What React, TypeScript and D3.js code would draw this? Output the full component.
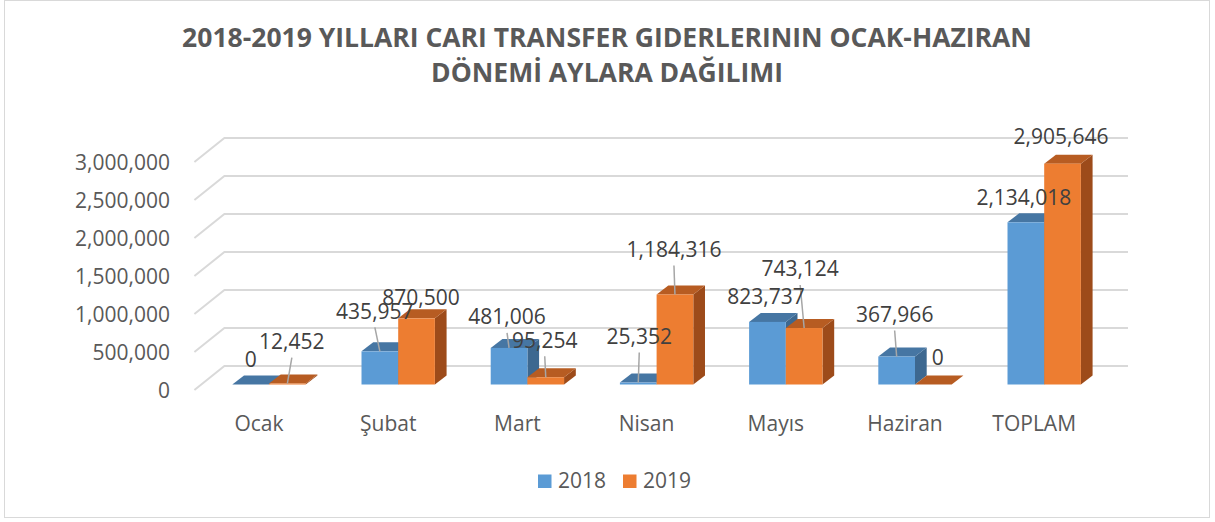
import React from 'react';
import * as d3 from 'd3';

const categories = ['Ocak', 'Şubat', 'Mart', 'Nisan', 'Mayıs', 'Haziran', 'TOPLAM'];
const values2018 = [0, 435957, 481006, 25352, 823737, 367966, 2134018];
const values2019 = [12452, 870500, 95254, 1184316, 743124, 0, 2905646];
const yTicks = [0, 500000, 1000000, 1500000, 2000000, 2500000, 3000000];
const seriesNames = ['2018', '2019'];

// manual label placement (offset from bar front-top centre), as in the Excel file
const labelOff2018 = [[0, -25], [-5, -40], [-2, -31], [1, -46], [-1.5, -25], [-2, -42], [-2, -25]];
const labelOff2019 = [[4.5, -42], [4.5, -21], [-1, -37], [-1, -45], [-4, -59], [4.5, -27], [-1.6, -27]];
const leader2018 = [false, true, true, true, false, true, false];
const leader2019 = [true, false, true, true, true, false, false];

const W = 1215;
const H = 522;
const FONT = "'Open Sans', 'Noto Sans', sans-serif";

const colors = [
  { front: '#5B9BD5', top: '#4676A3', side: '#3D6890' },
  { front: '#ED7D31', top: '#B75C22', side: '#9D4B1A' },
];

export default function App() {
  // front plane
  const x = d3.scaleBand<string>().domain(categories).range([194.4, 1098.8]);
  // back wall
  const y = d3.scaleLinear().domain([0, 3000000]).range([366, 138]);
  const depthX = 30;
  const depthY = 24;
  const backRight = 1128;

  const barW = x.bandwidth() * 0.284;
  const sideDx = 11.7;
  const sideDy = 9;
  const fmt = d3.format(',');

  const series = [values2018, values2019];
  const offsets = [labelOff2018, labelOff2019];
  const leaders = [leader2018, leader2019];

  const bars = categories.flatMap((c, i) =>
    series.map((vals, s) => {
      const cx = (x(c) as number) + x.bandwidth() / 2 + 10;
      const x0 = s === 0 ? cx - barW : cx;
      const yb = y(0) + 18.5;
      const yt = y(vals[i]) + 18.5;
      return { c, i, s, v: vals[i], x0, x1: x0 + barW, yb, yt };
    })
  );

  return (
    <div style={{ position: 'absolute', left: 0, top: 0 }}>
      <svg width={W} height={H} style={{ display: 'block', background: '#fff' }}>
        <rect x={4.5} y={0.5} width={1205} height={517} fill="#fff" stroke="#D9D9D9" strokeWidth={1} />

        <text x={607} y={47} textAnchor="middle" fontFamily={FONT} fontWeight={700} fontSize={26.5} fill="#595959">
          2018-2019 YILLARI CARI TRANSFER GIDERLERININ OCAK-HAZIRAN
        </text>
        <text x={607} y={82} textAnchor="middle" fontFamily={FONT} fontWeight={700} fontSize={26.5} fill="#595959">
          DÖNEMİ AYLARA DAĞILIMI
        </text>

        {/* back wall + side gridlines */}
        <g stroke="#D9D9D9" strokeWidth={2} fill="none">
          {yTicks.map((t) => (
            <path
              key={t}
              d={`M${194.4},${y(t) + depthY} L${194.4 + depthX},${y(t)} L${backRight},${y(t)}`}
            />
          ))}
        </g>

        {/* y axis labels */}
        <g fontFamily={FONT} fontSize={21} fill="#595959" textAnchor="end">
          {yTicks.map((t) => (
            <text key={t} x={170} y={y(t) + depthY + 1} dy="0.35em">
              {fmt(t)}
            </text>
          ))}
        </g>

        {/* bars */}
        {bars.map((b) => {
          const col = colors[b.s];
          const h = b.yb - b.yt;
          return (
            <g key={`${b.c}-${b.s}`}>
              <path
                d={`M${b.x1},${b.yb} L${b.x1 + sideDx},${b.yb - sideDy} L${b.x1 + sideDx},${b.yt - sideDy} L${b.x1},${b.yt} Z`}
                fill={col.side}
              />
              <path
                d={`M${b.x0},${b.yt} L${b.x0 + sideDx},${b.yt - sideDy} L${b.x1 + sideDx},${b.yt - sideDy} L${b.x1},${b.yt} Z`}
                fill={col.top}
              />
              {h > 0.5 && <rect x={b.x0} y={b.yt} width={barW} height={h} fill={col.front} />}
            </g>
          );
        })}

        {/* leader lines */}
        <g stroke="#A6A6A6" strokeWidth={1.5}>
          {bars
            .filter((b) => leaders[b.s][b.i])
            .map((b) => {
              const bx = (b.x0 + b.x1) / 2;
              const [dx, dy] = offsets[b.s][b.i];
              return (
                <line key={`l-${b.c}-${b.s}`} x1={bx + dx} y1={b.yt + dy + 16} x2={bx} y2={b.yt} />
              );
            })}
        </g>

        {/* data labels */}
        <g fontFamily={FONT} fontSize={21} fill="#404040" textAnchor="middle">
          {bars.map((b) => {
            const bx = (b.x0 + b.x1) / 2;
            const [dx, dy] = offsets[b.s][b.i];
            return (
              <text key={`t-${b.c}-${b.s}`} x={bx + dx} y={b.yt + dy} dy="0.35em">
                {fmt(b.v)}
              </text>
            );
          })}
        </g>

        {/* category labels */}
        <g fontFamily={FONT} fontSize={21} fill="#595959" textAnchor="middle">
          {categories.map((c) => (
            <text key={c} x={(x(c) as number) + x.bandwidth() / 2} y={424} dy="0.35em">
              {c}
            </text>
          ))}
        </g>

        {/* legend */}
        <g fontFamily={FONT} fontSize={21} fill="#595959">
          {seriesNames.map((n, k) => (
            <g key={n} transform={`translate(${538 + k * 85},0)`}>
              <rect x={0} y={474.5} width={13.5} height={13.5} fill={colors[k].front} />
              <text x={20} y={481} dy="0.35em">
                {n}
              </text>
            </g>
          ))}
        </g>
      </svg>
    </div>
  );
}
